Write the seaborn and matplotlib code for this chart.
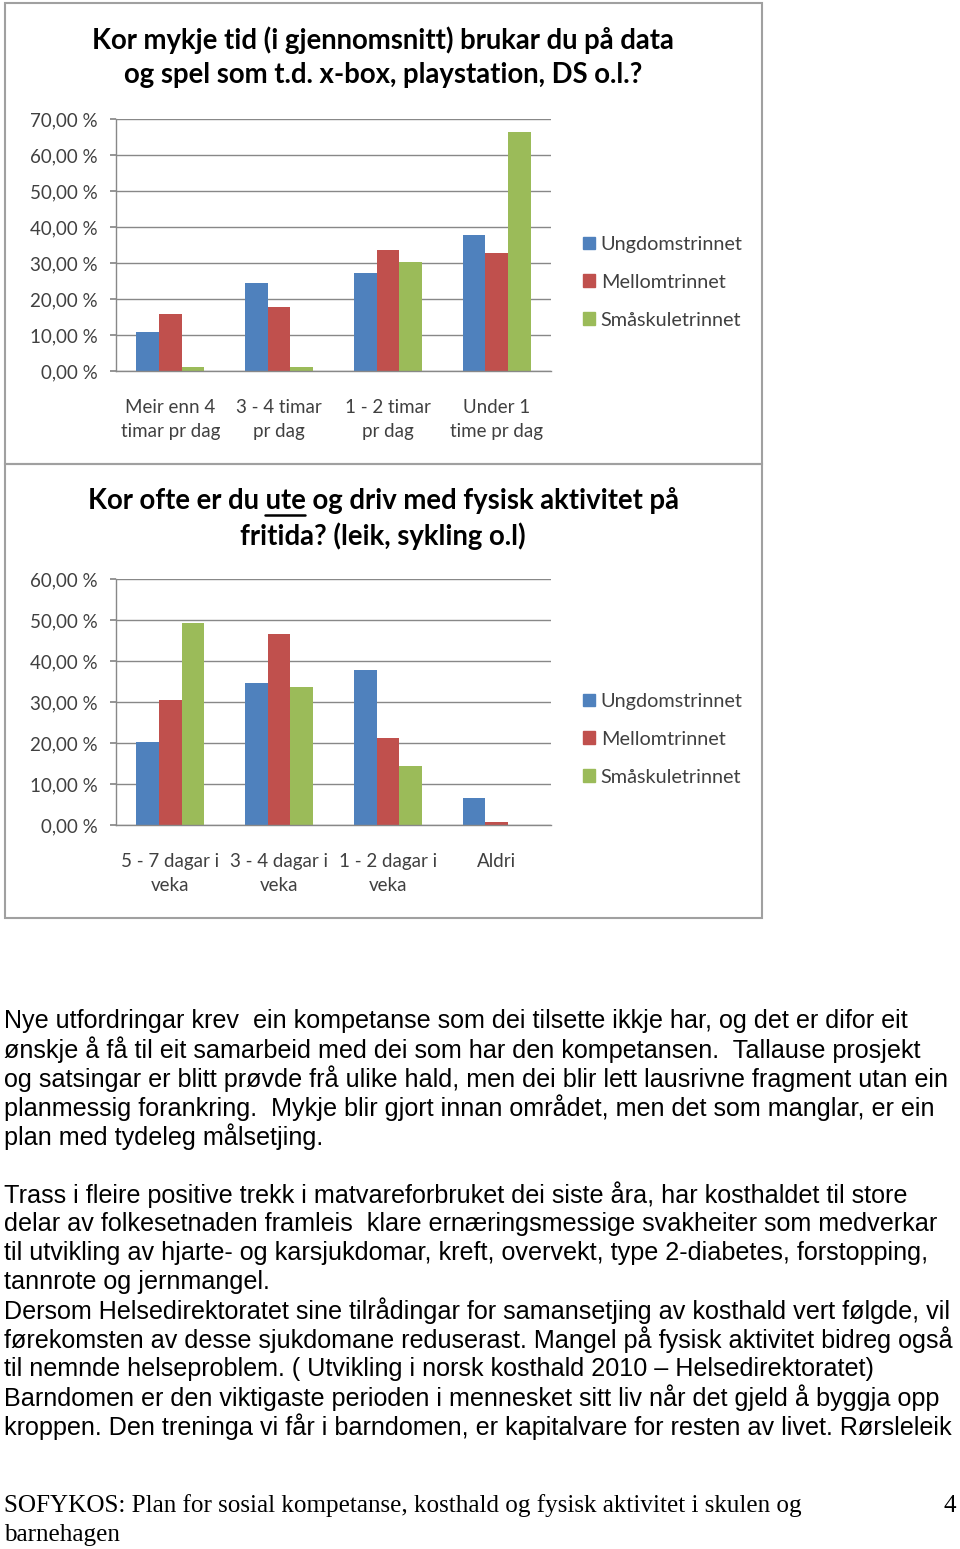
import pandas as pd
import matplotlib
matplotlib.use('Agg')
import matplotlib.pyplot as plt
import seaborn as sns
from matplotlib.patches import Rectangle
from matplotlib.lines import Line2D

# data (percent)
groups = ['Ungdomstrinnet', 'Mellomtrinnet', 'Småskuletrinnet']
cats_data = ['Meir enn 4\ntimar pr dag', '3 - 4 timar\npr dag', '1 - 2 timar\npr dag', 'Under 1\ntime pr dag']
ungdom_data = [10.7, 24.4, 27.2, 37.9]
mellom_data = [15.9, 17.7, 33.6, 32.9]
smaa_data = [1.1, 1.1, 30.2, 66.5]

cats_ute = ['5 - 7 dagar i\nveka', '3 - 4 dagar i\nveka', '1 - 2 dagar i\nveka', 'Aldri\n']
ungdom_ute = [20.2, 34.7, 37.7, 6.7]
mellom_ute = [30.6, 46.6, 21.2, 0.7]
smaa_ute = [49.3, 33.6, 14.3, 0.0]

colors = ['#4F81BD', '#C0504D', '#9BBB59']

para1 = ['Nye utfordringar krev  ein kompetanse som dei tilsette ikkje har, og det er difor eit',
         'ønskje å få til eit samarbeid med dei som har den kompetansen.  Tallause prosjekt',
         'og satsingar er blitt prøvde frå ulike hald, men dei blir lett lausrivne fragment utan ein',
         'planmessig forankring.  Mykje blir gjort innan området, men det som manglar, er ein',
         'plan med tydeleg målsetjing.']
para2 = ['Trass i fleire positive trekk i matvareforbruket dei siste åra, har kosthaldet til store',
         'delar av folkesetnaden framleis  klare ernæringsmessige svakheiter som medverkar',
         'til utvikling av hjarte- og karsjukdomar, kreft, overvekt, type 2-diabetes, forstopping,',
         'tannrote og jernmangel.',
         'Dersom Helsedirektoratet sine tilrådingar for samansetjing av kosthald vert følgde, vil',
         'førekomsten av desse sjukdomane reduserast. Mangel på fysisk aktivitet bidreg også',
         'til nemnde helseproblem. ( Utvikling i norsk kosthald 2010 – Helsedirektoratet)',
         'Barndomen er den viktigaste perioden i mennesket sitt liv når det gjeld å byggja opp',
         'kroppen. Den treninga vi får i barndomen, er kapitalvare for resten av livet. Rørsleleik']

sns.set_theme(style='white')
plt.rcParams['font.family'] = ['Lato', 'DejaVu Sans']

W, H = 960, 1549
fig = plt.figure(figsize=(W / 100, H / 100), dpi=100)


def fy(y):
    return 1 - y / H


def pct(v, pos):
    return f'{v:.2f}'.replace('.', ',') + ' %'


def chart(top, bottom, cats, vals, ymax):
    ax = fig.add_axes([116 / W, fy(bottom), 435 / W, (bottom - top) / H])
    df = pd.DataFrame({'cat': cats * 3,
                       'grp': [g for g in groups for _ in cats],
                       'val': vals[0] + vals[1] + vals[2]})
    sns.barplot(data=df, x='cat', y='val', hue='grp', hue_order=groups,
                palette=colors, width=0.625, saturation=1, ax=ax, legend=False)
    for p in ax.patches:
        p.set_edgecolor('none')
    ax.set_ylim(0, ymax)
    ax.set_yticks(range(0, ymax + 1, 10))
    ax.yaxis.set_major_formatter(plt.FuncFormatter(pct))
    ax.set_xlim(-0.5, 3.5)
    ax.grid(axis='y', color='#888888', linewidth=1)
    ax.set_axisbelow(True)
    for s in ['top', 'right']:
        ax.spines[s].set_visible(False)
    for s in ['left', 'bottom']:
        ax.spines[s].set_color('#888888')
        ax.spines[s].set_linewidth(1)
    ax.tick_params(axis='y', labelsize=13.5, colors='#888888', labelcolor='#404040',
                   length=4, pad=9, left=True)
    ax.tick_params(axis='x', labelsize=13.5, labelcolor='#404040', length=0, pad=20)
    for lab in ax.get_xticklabels():
        lab.set_linespacing(1.55)
    ax.set_xlabel('')
    ax.set_ylabel('')
    return ax


# frames
fig.patches.append(Rectangle((5 / W, fy(464)), 757 / W, 461 / H, transform=fig.transFigure,
                             fill=False, edgecolor='#a0a0a0', linewidth=1.5))
fig.patches.append(Rectangle((5 / W, fy(918)), 757 / W, 454 / H, transform=fig.transFigure,
                             fill=False, edgecolor='#a0a0a0', linewidth=1.5))

chart(119, 371, cats_data, [ungdom_data, mellom_data, smaa_data], 70)
chart(579, 825, cats_ute, [ungdom_ute, mellom_ute, smaa_ute], 60)

TFS = 19.8
tkw = dict(ha='center', va='center', fontsize=TFS, fontweight='bold', color='black')
fig.text(383 / W, fy(40), 'Kor mykje tid (i gjennomsnitt) brukar du på data', **tkw)
fig.text(383 / W, fy(75), 'og spel som t.d. x-box, playstation, DS o.l.?', **tkw)

# title 2 with underlined "ute"
t2 = fig.text(383 / W, fy(501), 'Kor ofte er du ute og driv med fysisk aktivitet på', **tkw)
fig.text(383 / W, fy(536), 'fritida? (leik, sykling o.l)', **tkw)
fig.canvas.draw()
r = fig.canvas.get_renderer()
full = t2.get_window_extent(r)
tmp = fig.text(0, 0, 'Kor ofte er du ', fontsize=TFS, fontweight='bold')
pre = tmp.get_window_extent(r).width
tmp.set_text('ute')
uw = tmp.get_window_extent(r).width
tmp.remove()
x0 = full.x0 + pre
fig.lines.append(Line2D([x0 / W, (x0 + uw) / W], [fy(515), fy(515)],
                        transform=fig.transFigure, color='black', linewidth=1.8))

for top in (218, 675):
    handles = [Rectangle((0, 0), 1, 1, color=c) for c in colors]
    fig.legend(handles, groups, loc='upper left', bbox_to_anchor=(565 / W, fy(top)),
               frameon=False, fontsize=14.3, labelspacing=1.05, handlelength=0.6,
               handleheight=0.6, handletextpad=0.3, labelcolor='#404040')

bkw = dict(ha='left', va='center', fontsize=18.1, color='black',
           family=['Liberation Sans', 'DejaVu Sans'])
for i, line in enumerate(para1):
    fig.text(4 / W, fy(1021 + 29 * i), line, **bkw)
for i, line in enumerate(para2):
    fig.text(4 / W, fy(1195 + 29 * i), line, **bkw)

fkw = dict(va='center', fontsize=18.1, color='black', family=['Liberation Serif', 'DejaVu Serif'])
fig.text(4 / W, fy(1506), 'SOFYKOS: Plan for sosial kompetanse, kosthald og fysisk aktivitet i skulen og',
         ha='left', **fkw)
fig.text(4 / W, fy(1535), 'barnehagen', ha='left', **fkw)
fig.text(956 / W, fy(1506), '4', ha='right', **fkw)

fig.savefig('out.png', dpi=100, facecolor='white')
